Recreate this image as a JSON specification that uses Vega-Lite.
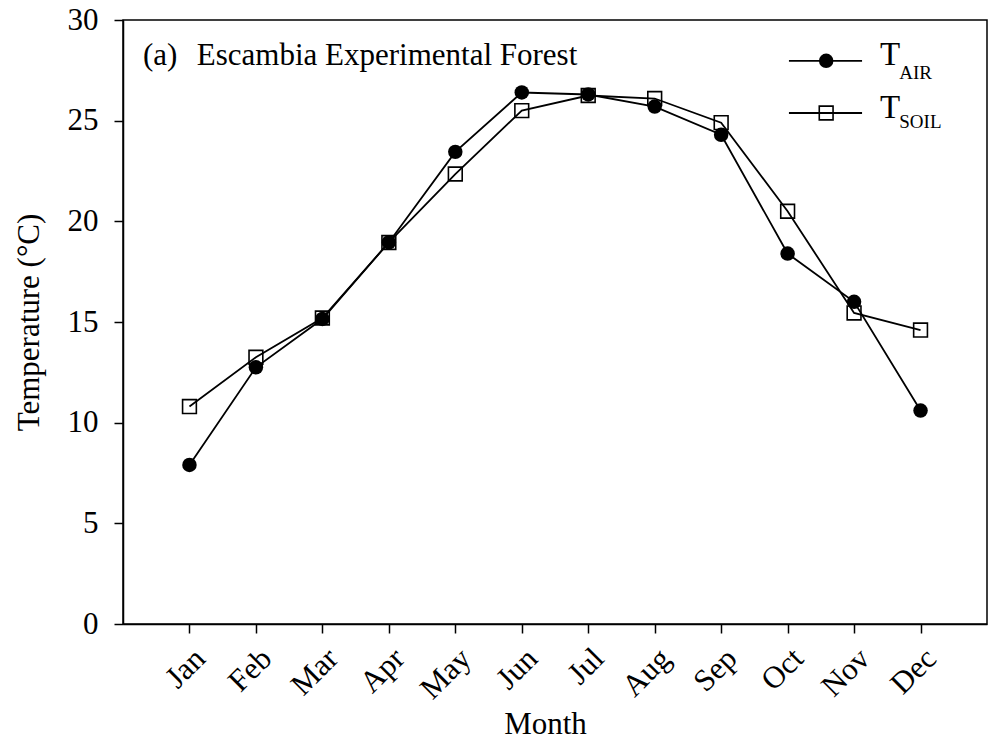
{
  "$schema": "https://vega.github.io/schema/vega-lite/v6.json",
  "width": 864,
  "height": 604,
  "autosize": {"type": "none"},
  "padding": {"left": 123, "top": 20, "right": 2, "bottom": 119},
  "background": "white",
  "config": {
    "font": "Liberation Serif",
    "view": {"stroke": "black", "strokeWidth": 1.5},
    "axis": {
      "labelFont": "Liberation Serif",
      "titleFont": "Liberation Serif",
      "labelFontSize": 31,
      "titleFontSize": 31,
      "titleFontWeight": "normal",
      "labelColor": "#000000",
      "titleColor": "#000000",
      "domainColor": "#000000",
      "tickColor": "#000000",
      "domainWidth": 1.5,
      "tickWidth": 1.5,
      "tickSize": 9,
      "grid": false
    }
  },
  "datasets": {
    "air": [
      {"month": 1, "temp": 7.9},
      {"month": 2, "temp": 12.75},
      {"month": 3, "temp": 15.15},
      {"month": 4, "temp": 18.95},
      {"month": 5, "temp": 23.45},
      {"month": 6, "temp": 26.4},
      {"month": 7, "temp": 26.3},
      {"month": 8, "temp": 25.7},
      {"month": 9, "temp": 24.3},
      {"month": 10, "temp": 18.4},
      {"month": 11, "temp": 16.0},
      {"month": 12, "temp": 10.6}
    ],
    "soil": [
      {"month": 1, "temp": 10.8},
      {"month": 2, "temp": 13.25},
      {"month": 3, "temp": 15.2},
      {"month": 4, "temp": 18.95},
      {"month": 5, "temp": 22.35},
      {"month": 6, "temp": 25.5},
      {"month": 7, "temp": 26.25},
      {"month": 8, "temp": 26.1},
      {"month": 9, "temp": 24.9},
      {"month": 10, "temp": 20.5},
      {"month": 11, "temp": 15.45},
      {"month": 12, "temp": 14.6}
    ],
    "notes": [
      {"label": "(a)", "mx": 0.3, "my": 27.77},
      {"label": "Escambia Experimental Forest", "mx": 1.11, "my": 27.77}
    ],
    "legend": [
      {"series": "air", "x1": 10.02, "x2": 11.12, "xm": 10.58, "yl": 27.97, "xt": 11.39, "yt": 27.77, "xs": 11.68, "ys": 27.07, "sub": "AIR"},
      {"series": "soil", "x1": 10.02, "x2": 11.12, "xm": 10.58, "yl": 25.38, "xt": 11.39, "yt": 25.12, "xs": 11.68, "ys": 24.62, "sub": "SOIL"}
    ]
  },
  "layer": [
    {
      "data": {"name": "soil"},
      "mark": {"type": "line", "color": "black", "strokeWidth": 1.8},
      "encoding": {
        "x": {
          "field": "month",
          "type": "quantitative",
          "scale": {"domain": [0, 13], "nice": false, "zero": false},
          "axis": {
            "title": "Month",
            "values": [1, 2, 3, 4, 5, 6, 7, 8, 9, 10, 11, 12],
            "labelExpr": "['','Jan','Feb','Mar','Apr','May','Jun','Jul','Aug','Sep','Oct','Nov','Dec'][datum.value]",
            "labelAngle": -45,
            "labelPadding": 10,
            "titlePadding": 5,
            "titleX": 422,
            "titleAlign": "center",
            "titleColor": "#000000"
          }
        },
        "y": {
          "field": "temp",
          "type": "quantitative",
          "scale": {"domain": [0, 30], "nice": false},
          "axis": {
            "title": "Temperature (°C)",
            "values": [0, 5, 10, 15, 20, 25, 30],
            "labelPadding": 16,
            "titlePadding": 22,
            "titleColor": "#000000"
          }
        }
      }
    },
    {
      "data": {"name": "soil"},
      "mark": {"type": "point", "shape": "square", "filled": false, "color": "black", "size": 190, "strokeWidth": 1.6, "opacity": 1},
      "encoding": {
        "x": {"field": "month", "type": "quantitative"},
        "y": {"field": "temp", "type": "quantitative"}
      }
    },
    {
      "data": {"name": "air"},
      "mark": {"type": "line", "color": "black", "strokeWidth": 1.8},
      "encoding": {
        "x": {"field": "month", "type": "quantitative"},
        "y": {"field": "temp", "type": "quantitative"}
      }
    },
    {
      "data": {"name": "air"},
      "mark": {"type": "point", "shape": "circle", "filled": true, "color": "black", "size": 210, "opacity": 1},
      "encoding": {
        "x": {"field": "month", "type": "quantitative"},
        "y": {"field": "temp", "type": "quantitative"}
      }
    },
    {
      "data": {"name": "notes"},
      "mark": {"type": "text", "font": "Liberation Serif", "fontSize": 31, "align": "left", "baseline": "alphabetic", "color": "black"},
      "encoding": {
        "x": {"field": "mx", "type": "quantitative"},
        "y": {"field": "my", "type": "quantitative"},
        "text": {"field": "label"}
      }
    },
    {
      "data": {"name": "legend"},
      "mark": {"type": "rule", "color": "black", "strokeWidth": 1.8},
      "encoding": {
        "x": {"field": "x1", "type": "quantitative"},
        "x2": {"field": "x2"},
        "y": {"field": "yl", "type": "quantitative"}
      }
    },
    {
      "data": {"name": "legend"},
      "transform": [{"filter": "datum.series == 'air'"}],
      "mark": {"type": "point", "shape": "circle", "filled": true, "color": "black", "size": 210, "opacity": 1},
      "encoding": {
        "x": {"field": "xm", "type": "quantitative"},
        "y": {"field": "yl", "type": "quantitative"}
      }
    },
    {
      "data": {"name": "legend"},
      "transform": [{"filter": "datum.series == 'soil'"}],
      "mark": {"type": "point", "shape": "square", "filled": false, "color": "black", "size": 190, "strokeWidth": 1.6, "opacity": 1},
      "encoding": {
        "x": {"field": "xm", "type": "quantitative"},
        "y": {"field": "yl", "type": "quantitative"}
      }
    },
    {
      "data": {"name": "legend"},
      "mark": {"type": "text", "font": "Liberation Serif", "fontSize": 33, "align": "left", "baseline": "alphabetic", "color": "black", "text": "T"},
      "encoding": {
        "x": {"field": "xt", "type": "quantitative"},
        "y": {"field": "yt", "type": "quantitative"}
      }
    },
    {
      "data": {"name": "legend"},
      "mark": {"type": "text", "font": "Liberation Serif", "fontSize": 19, "align": "left", "baseline": "alphabetic", "color": "black"},
      "encoding": {
        "x": {"field": "xs", "type": "quantitative"},
        "y": {"field": "ys", "type": "quantitative"},
        "text": {"field": "sub"}
      }
    }
  ]
}
